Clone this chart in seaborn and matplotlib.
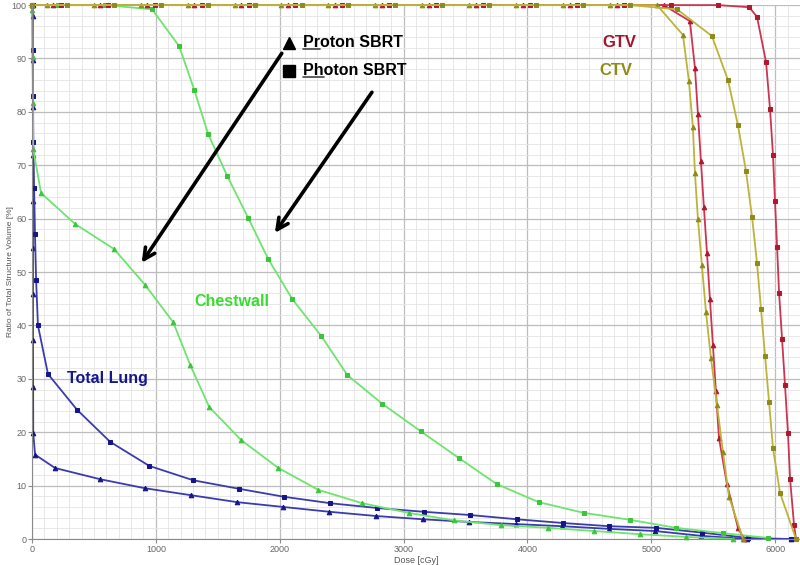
import numpy as np
import pandas as pd
import matplotlib.pyplot as plt
import seaborn as sns
from matplotlib.lines import Line2D
from matplotlib.ticker import MultipleLocator

gtv_proton_dose = [0, 172, 551, 930, 1309, 1688, 2067, 2446, 2825, 3204, 3583, 3962, 4341, 4720, 5099,
                   5311, 5352, 5376, 5400, 5424, 5449, 5473, 5497, 5521, 5546, 5610, 5699, 5748]
gtv_proton_vol = [100, 100, 100, 100, 100, 100, 100, 100, 100, 100, 100, 100, 100, 100, 100,
                  97, 88.2, 79.6, 70.8, 62.2, 53.6, 44.9, 36.3, 27.7, 18.9, 10.3, 2.1, 0]

gtv_photon_dose = [0, 232, 611, 990, 1369, 1748, 2127, 2506, 2885, 3264, 3643, 4022, 4401, 4780, 5159, 5538,
                   5790, 5853, 5926, 5958, 5982, 5998, 6015, 6031, 6055, 6079, 6103, 6120, 6152, 6168]
gtv_photon_vol = [100, 100, 100, 100, 100, 100, 100, 100, 100, 100, 100, 100, 100, 100, 100, 100,
                  99.6, 97.8, 89.3, 80.5, 71.9, 63.3, 54.7, 46.1, 37.5, 28.8, 19.8, 11.2, 2.6, 0]

ctv_proton_dose = [0, 119, 498, 877, 1256, 1635, 2014, 2393, 2772, 3151, 3530, 3909, 4288, 4667, 5046,
                   5255, 5303, 5335, 5352, 5376, 5408, 5441, 5481, 5530, 5578, 5627, 5740]
ctv_proton_vol = [100, 100, 100, 100, 100, 100, 100, 100, 100, 100, 100, 100, 100, 100, 100,
                  94.4, 85.8, 77.2, 68.5, 59.9, 51.3, 42.5, 33.9, 25.1, 16.3, 7.9, 0]

ctv_photon_dose = [0, 281, 660, 1039, 1418, 1797, 2176, 2555, 2934, 3313, 3692, 4071, 4450, 4829, 5208,
                   5489, 5618, 5699, 5764, 5813, 5853, 5885, 5918, 5950, 5982, 6039, 6168]
ctv_photon_vol = [100, 100, 100, 100, 100, 100, 100, 100, 100, 100, 100, 100, 100, 100, 99.2,
                  94.2, 86, 77.5, 68.9, 60.3, 51.7, 43.1, 34.3, 25.7, 17, 8.6, 0]

cw_proton_dose = [0, 3, 5, 7, 10, 73, 348, 663, 913, 1140, 1277, 1431, 1690, 1989, 2312, 2668,
                  3040, 3403, 3783, 4163, 4535, 4907, 5279, 5659]
cw_proton_vol = [100, 99, 90.2, 81.6, 73, 64.8, 59.0, 54.3, 47.6, 40.6, 32.6, 24.7, 18.5, 13.3, 9.2, 6.7,
                 4.9, 3.5, 2.6, 2.1, 1.5, 0.9, 0.4, 0]

cw_photon_dose = [0, 212, 591, 970, 1188, 1310, 1423, 1576, 1746, 1908, 2102, 2336, 2546, 2829, 3137,
                  3444, 3751, 4091, 4454, 4826, 5198, 5578, 5942]
cw_photon_vol = [100, 100, 100, 99.2, 92.3, 84.1, 75.8, 68.0, 60.1, 52.4, 44.9, 38.0, 30.7, 25.3, 20.2,
                 15.2, 10.3, 6.9, 4.9, 3.6, 2.1, 1.1, 0.2]

lung_proton_dose = [5, 6, 7, 8, 8, 8, 8, 8, 8, 9, 10, 25, 186, 550, 914, 1285, 1657, 2029, 2401, 2781,
                    3153, 3525, 3905, 4277, 4656, 5028, 5400, 5772, 6130]
lung_proton_vol = [100, 98, 89.7, 81, 72, 63.3, 54.5, 45.9, 37.3, 28.5, 19.8, 15.8, 13.3, 11.2, 9.5, 8.2,
                   6.9, 6.0, 5.1, 4.3, 3.7, 3.2, 2.8, 2.4, 1.9, 1.5, 0.6, 0, 0]

lung_photon_dose = [5, 6, 8, 11, 17, 24, 33, 48, 129, 364, 631, 946, 1302, 1673, 2037, 2409, 2789,
                    3161, 3533, 3913, 4285, 4656, 5036, 5408, 5780, 6130]
lung_photon_vol = [100, 91.6, 83, 74.4, 65.8, 57.2, 48.6, 40, 30.9, 24.2, 18.2, 13.7, 11.0, 9.4, 7.9,
                   6.7, 5.8, 5.1, 4.5, 3.7, 3.0, 2.4, 2.1, 1.2, 0.2, 0]

sns.set_style("white")
plt.rcParams['font.family'] = ['Liberation Sans', 'DejaVu Sans']

fig = plt.figure(figsize=(8, 5.65), dpi=100)
ax = fig.add_axes([0.04, 0.046, 0.96, 0.945])

series = [
    (lung_proton_dose, lung_proton_vol, '#3b3bb0', '#15158a', '^', 3.3),
    (lung_photon_dose, lung_photon_vol, '#3b3bb0', '#15158a', 's', 2.5),
    (cw_proton_dose, cw_proton_vol, '#6ee46e', '#3cc43c', '^', 3.3),
    (cw_photon_dose, cw_photon_vol, '#6ee46e', '#3cc43c', 's', 2.5),
    (gtv_proton_dose, gtv_proton_vol, '#cc3550', '#b0182e', '^', 3.3),
    (gtv_photon_dose, gtv_photon_vol, '#cc3550', '#b0182e', 's', 2.5),
    (ctv_proton_dose, ctv_proton_vol, '#bdb33a', '#8f8a1c', '^', 3.3),
    (ctv_photon_dose, ctv_photon_vol, '#bdb33a', '#8f8a1c', 's', 2.5),
]

for dose, vol, lc, mc, mk, ms in series:
    df = pd.DataFrame({'dose': dose, 'vol': vol})
    sns.lineplot(data=df, x='dose', y='vol', sort=False, estimator=None,
                 color=lc, lw=1.3, marker=mk, markersize=ms,
                 markerfacecolor=mc, markeredgecolor=mc, clip_on=False,
                 legend=False, ax=ax)

ax.set_xlim(0, 6200)
ax.set_ylim(0, 100)
ax.xaxis.set_major_locator(MultipleLocator(1000))
ax.xaxis.set_minor_locator(MultipleLocator(100))
ax.yaxis.set_major_locator(MultipleLocator(10))
ax.yaxis.set_minor_locator(MultipleLocator(2))
ax.grid(which='major', color='#bdbdbd', lw=0.9)
ax.grid(which='minor', color='#e4e4e4', lw=0.6)
ax.set_axisbelow(True)
ax.spines[['top', 'right']].set_visible(False)
ax.spines[['left', 'bottom']].set_color('#8a8a8a')
ax.tick_params(axis='both', which='major', labelsize=6.5, labelcolor='#666666',
               length=3, color='#8a8a8a', pad=1, left=True, bottom=True)
ax.set_xlabel('Dose [cGy]', fontsize=6.5, color='#555555')
ax.set_ylabel('Ratio of Total Structure Volume [%]', fontsize=6, color='#555555')
ax.xaxis.set_label_coords(0.5, -0.032)
ax.yaxis.set_label_coords(-0.024, 0.5)

# structure labels
ax.text(4745, 92.9, 'GTV', color='#a3152c', fontsize=12, fontweight='bold', ha='center', va='center')
ax.text(4715, 87.8, 'CTV', color='#8e8c14', fontsize=12, fontweight='bold', ha='center', va='center')
ax.text(1617, 44.4, 'Chestwall', color='#38dc30', fontsize=11.5, fontweight='bold', ha='center', va='center')
ax.text(606, 30.1, 'Total Lung', color='#16168e', fontsize=11.5, fontweight='bold', ha='center', va='center')

# plan key with underlined first letters
ax.plot([2075], [92.9], marker='^', ms=9, color='black', clip_on=False)
ax.plot([2075], [87.7], marker='s', ms=8, color='black', clip_on=False)
fig.canvas.draw()
renderer = fig.canvas.get_renderer()
for yk, label, prefix in [(92.9, 'Proton SBRT', 'Pr'), (87.7, 'Photon SBRT', 'Ph')]:
    ax.text(2190, yk, label, fontsize=11.5, fontweight='bold', ha='left', va='center', color='black')
    tmp = ax.text(2190, yk, prefix, fontsize=11.5, fontweight='bold', ha='left', va='center', alpha=0)
    bb = tmp.get_window_extent(renderer)
    p0 = fig.transFigure.inverted().transform((bb.x0, bb.y0 + 1.5))
    p1 = fig.transFigure.inverted().transform((bb.x1, bb.y0 + 1.5))
    fig.add_artist(Line2D([p0[0], p1[0]], [p0[1], p1[1]], color='#444444', lw=1.2))

# arrows
ax.annotate('', xy=(873, 51.3), xytext=(2029, 91.4),
            arrowprops=dict(arrowstyle='->', lw=2.6, color='black', mutation_scale=20))
ax.annotate('', xy=(1948, 56.9), xytext=(2757, 84.1),
            arrowprops=dict(arrowstyle='->', lw=2.6, color='black', mutation_scale=20))

fig.savefig('out.png', dpi=100)
